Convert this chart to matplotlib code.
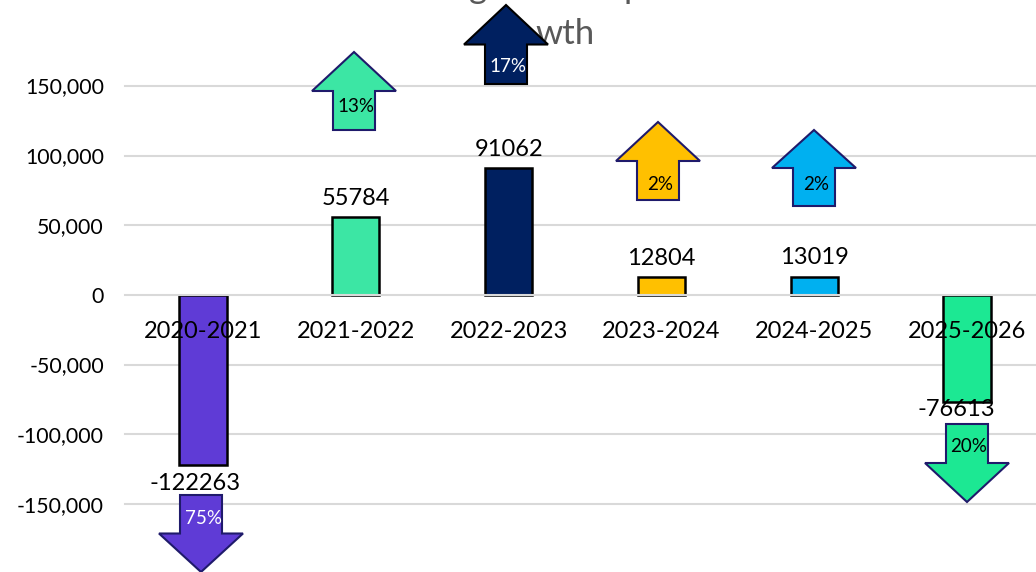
import matplotlib
matplotlib.use('Agg')
import matplotlib.pyplot as plt
from matplotlib.patches import Polygon

plt.rcParams['font.family'] = ['Lato', 'DejaVu Sans']

# values
years = ['2020-2021', '2021-2022', '2022-2023', '2023-2024', '2024-2025', '2025-2026']
changes = [-122263, 55784, 91062, 12804, 13019, -76613]
bar_colors = ['#5F3BD6', '#3CE6A4', '#002060', '#FFC000', '#00B0F0', '#1CE893']
y_ticks = [150000, 100000, 50000, 0, -50000, -100000, -150000]

# arrow callouts: label, text colour, centre x, tail y, tip y, label y (in pixels)
arrow_labels = ['75%', '13%', '17%', '2%', '2%', '20%']
arrow_text = ['white', 'black', 'white', 'black', 'black', 'black']
arrow_x = [201, 354, 506, 658, 814, 967]
arrow_tail = [495, 130, 84, 200, 206, 424]
arrow_tip = [572, 52, 5, 122, 130, 502]
arrow_label_y = [518, 106, 67, 184, 184, 447]

W, H = 1036, 572
fig = plt.figure(figsize=(W / 100, H / 100), dpi=100)

# main axes fills the figure so that pixel positions are easy to line up
ax = fig.add_axes([0, 0, 1, 1])
px_per_cat = 152.8
px_per_val = 69.7 / 50000
zero_px = 295
ax.set_xlim(-203 / px_per_cat, (W - 203) / px_per_cat)
ax.set_ylim(-(H - zero_px) / px_per_val, zero_px / px_per_val)
ax.axis('off')

# gridlines, the zero line sits over the bars
left = (125 - 203) / px_per_cat
for t in y_ticks:
    ax.plot([left, ax.get_xlim()[1]], [t, t], color='#D9D9D9', lw=1.5, zorder=3 if t == 0 else 1)
    ax.text(left - 21 / px_per_cat, t - 1200, f'{t:,}', ha='right', va='center', fontsize=15.3, color='black')

# bars
for i, v in enumerate(changes):
    ax.bar(i, v, width=0.31, color=bar_colors[i], edgecolor='black', linewidth=1.8, zorder=2)
    if v > 0:
        ax.text(i, v + 6000, str(v), ha='center', va='bottom', fontsize=17, color='black', zorder=5)
    elif v < -100000:
        ax.text(i - 0.05, v - 13000, str(v), ha='center', va='center', fontsize=17, color='black', zorder=5)
    else:
        ax.text(i - 0.07, v - 5500, str(v), ha='center', va='center', fontsize=17, color='black', zorder=5)
    ax.text(i, -26500, years[i], ha='center', va='center', fontsize=17, color='black', zorder=5)

# overlay in pixel coordinates for the arrow shapes and the clipped title
over = fig.add_axes([0, 0, 1, 1])
over.set_xlim(0, W)
over.set_ylim(H, 0)
over.axis('off')
over.patch.set_alpha(0)

for i in range(len(arrow_x)):
    x, a, b = arrow_x[i], arrow_tail[i], arrow_tip[i]
    sh = (a + b) / 2
    pts = [(x - 21, a), (x + 21, a), (x + 21, sh), (x + 42, sh), (x, b), (x - 42, sh), (x - 21, sh)]
    edge = 'black' if i == 2 else '#1F1A6B'
    over.add_patch(Polygon(pts, closed=True, facecolor=bar_colors[i], edgecolor=edge, linewidth=1.5, zorder=3))
    over.text(x + 2, arrow_label_y[i], arrow_labels[i], ha='center', va='center', fontsize=13.5,
              color=arrow_text[i], zorder=6)

# title is cut off by the top edge in the source, only these bits show
over.text(565, 34, 'wth', ha='center', va='center', fontsize=25, color='#595959', zorder=2)
over.text(478, -2, 'g', ha='center', va='baseline', fontsize=25, color='#595959', zorder=2)
over.text(633, -2, 'p', ha='center', va='baseline', fontsize=25, color='#595959', zorder=2)

fig.savefig('out.png', dpi=100)
